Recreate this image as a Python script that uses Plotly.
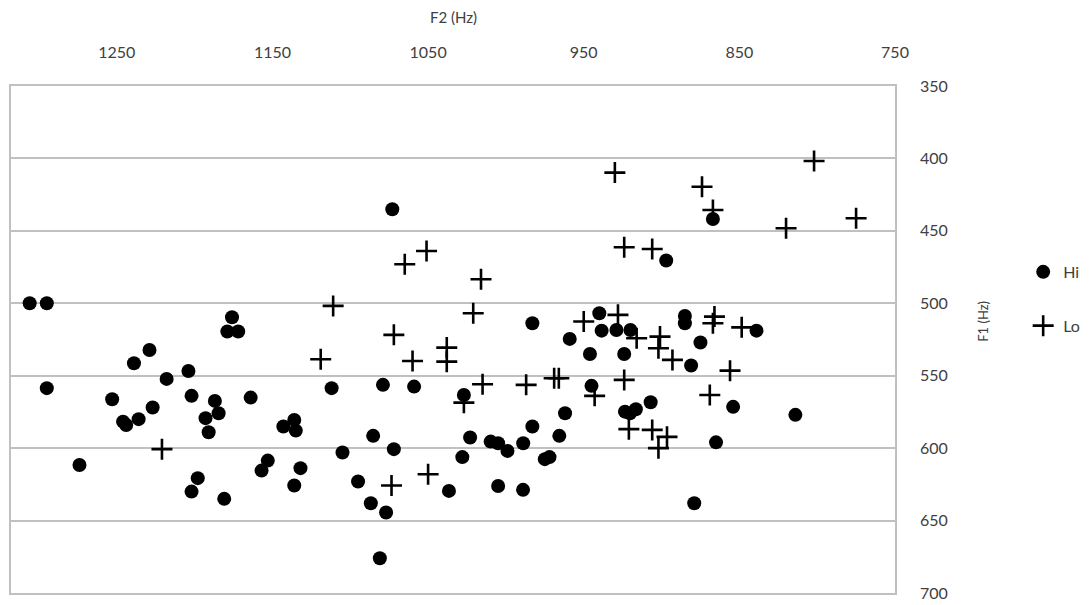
import plotly.graph_objects as go

# Hi series (F2 Hz, F1 Hz)
hi_f2 = [1306, 1295, 1295, 1274, 1176, 1179, 1172, 1229, 1239, 1218, 1204, 1202, 1187, 1184.6,
         1193, 1191, 1164, 1253, 1246, 1244, 1236, 1227, 1198, 1202, 1181, 1153, 1157, 1132,
         1136, 1143, 1136, 1135,
         1073, 983, 959, 946, 1112, 1079, 1059, 945, 1027,
         867, 897, 940, 938.5, 929, 920, 885, 885, 875, 839, 924, 881,
         907, 923.5, 920.3, 916.5, 962, 983, 965.7, 975, 972, 988.9, 1009.8, 1005, 999, 1023,
         1028, 1005, 989, 1036.6, 1085.3, 1072, 1105, 1095, 1086.8, 1077, 1081,
         854, 865, 814, 879]
hi_f1 = [500, 500, 558.6, 611.6, 509.6, 519.5, 519.5, 532.2, 541.4, 552.2, 546.7, 563.9, 567.4, 575.9,
         579.3, 589, 565.1, 566.2, 581.7, 584, 580, 571.9, 620.7, 630, 635, 608.6, 615.5, 613.8,
         625.8, 585.1, 580.5, 587.9,
         435.1, 513.8, 524.6, 535, 558.6, 556.3, 557.5, 557, 563.3,
         441.8, 470.5, 506.9, 518.9, 518.4, 518.4, 508.7, 513.8, 527.1, 518.9, 535, 543,
         568.3, 574.8, 575.9, 573.1, 575.9, 585.1, 591.5, 607.6, 606.2, 596.6, 595.5, 596.6, 601.9, 592.7,
         606.2, 626.1, 628.8, 629.5, 591.5, 600.7, 603, 623, 638, 644.4, 676,
         571.5, 596, 577, 638]

# Lo series (F2 Hz, F1 Hz)
lo_f2 = [1051, 1065, 1016, 1111, 1021, 950, 1072, 1038, 1119, 1060, 1038, 1015, 987, 969, 966,
         1027, 930, 802, 874, 867, 820, 775, 924, 906, 928, 916, 901, 902, 893, 866, 867, 848.5,
         856, 924, 943, 869, 921, 906, 902, 896.5, 1050, 1073.5, 1221]
lo_f1 = [463.9, 473.1, 483.4, 501.8, 506.9, 512.6, 521.8, 530.6, 538.6, 539.8, 540.3, 555.9, 556.3,
         551.7, 551.7, 568.6, 409.8, 401.8, 419.5, 435.6, 448.2, 441.3, 461.3, 462.5, 508, 524.1,
         523, 531, 539.1, 509.2, 513.8, 516.6, 546.5, 552.9, 563.9, 563.3, 586.9, 587.4, 600, 592.2,
         618, 625.8, 600.7]

x_ticks = [1250, 1150, 1050, 950, 850, 750]
y_ticks = [350, 400, 450, 500, 550, 600, 650, 700]

FONT = "Lato"
GRAY = "#404040"
LINE = "#c0c0c0"

fig = go.Figure()
fig.add_trace(go.Scatter(
    x=hi_f2, y=hi_f1, mode="markers", name="Hi", legendgroup="hi",
    marker=dict(symbol="circle", size=14, color="black", line=dict(width=0)),
))
fig.add_trace(go.Scatter(
    x=lo_f2, y=lo_f1, mode="markers", name="Lo", legendgroup="lo",
    marker=dict(symbol="cross-thin", size=15, color="black",
                line=dict(width=2.6, color="black")),
))

fig.update_layout(
    width=1089, height=605,
    margin=dict(l=11, r=194, t=86, b=12, autoexpand=False),
    paper_bgcolor="white", plot_bgcolor="white",
    font=dict(family=FONT, size=16, color=GRAY),
    showlegend=True,
    legend=dict(x=1.145, y=0.58, xanchor="left", yanchor="middle",
                font=dict(family=FONT, size=16, color=GRAY),
                tracegroupgap=30, itemwidth=30, bgcolor="rgba(0,0,0,0)"),
    xaxis=dict(side="top", range=[1318, 750], tickmode="array", tickvals=x_ticks,
               ticktext=[str(v) for v in x_ticks], showgrid=False, zeroline=False,
               showline=True, mirror=True, linecolor=LINE, linewidth=1.5, automargin=False,
               ticks="", ticklabelstandoff=20, tickfont=dict(family=FONT, size=16, color=GRAY)),
    yaxis=dict(side="right", range=[700, 350], tickmode="array", tickvals=y_ticks,
               ticktext=[str(v) for v in y_ticks], showgrid=True, gridcolor=LINE, gridwidth=1.5,
               zeroline=False, showline=True, mirror=True, linecolor=LINE, linewidth=1.5,
               automargin=False,
               ticks="", ticklabelstandoff=20, tickfont=dict(family=FONT, size=16, color=GRAY)),
    annotations=[
        dict(text="F2 (Hz)", xref="paper", yref="paper", x=0.5, y=1, yshift=69,
             xanchor="center", yanchor="middle", showarrow=False,
             font=dict(family=FONT, size=15, color=GRAY)),
        dict(text="F1 (Hz)", xref="paper", yref="paper", x=1, xshift=88, y=0.535,
             xanchor="center", yanchor="middle", textangle=-90, showarrow=False,
             font=dict(family=FONT, size=13, color=GRAY)),
    ],
)

fig.write_html("out.html")
